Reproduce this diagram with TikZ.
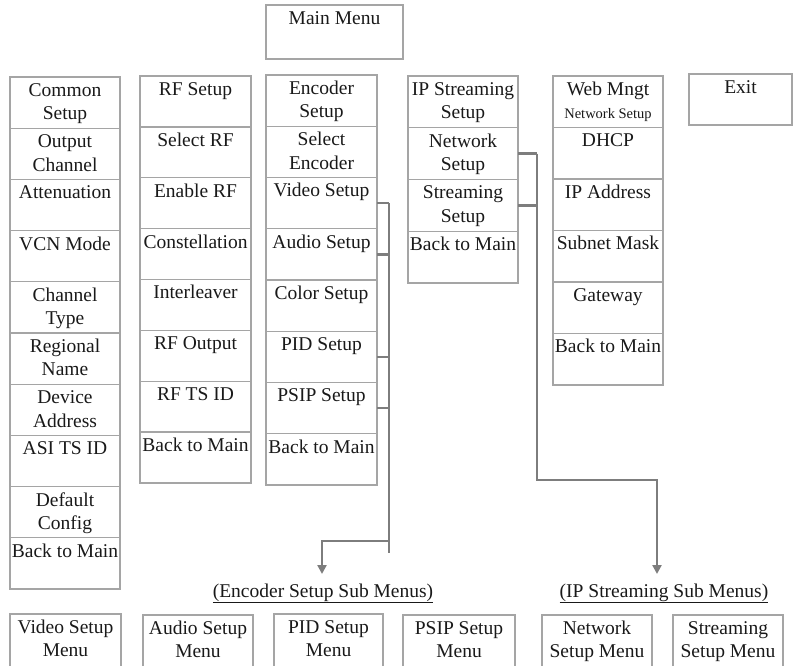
\documentclass[tikz,border=0pt]{standalone}
\usepackage{fontspec}
\setmainfont{Liberation Serif}
\usetikzlibrary{arrows.meta}
\definecolor{boxgray}{RGB}{165,165,165}
\definecolor{linegray}{RGB}{125,125,125}
\definecolor{txtcol}{RGB}{25,25,25}
\newcommand{\menubox}[6]{\node[menubx, anchor=north west] (#1) at (#2,#3) {\parbox[c][#5pt][t]{#4pt}{\centering\vspace*{3pt}\strut #6}};}
\tikzset{
  menubx/.style={draw=boxgray, line width=1.3pt, inner sep=0pt, outer sep=0pt},
  conn/.style={draw=linegray, line width=2.6pt},
  arr/.style={conn, -{Triangle[width=9pt,length=9pt]}},
  lbl/.style={anchor=base, inner sep=0pt}
}
\begin{document}
\begin{tikzpicture}[x=1pt, y=-1pt, font=\fontsize{19.5}{23.5}\selectfont, text=txtcol]
\useasboundingbox (0,0) rectangle (795,665);
\clip (0,0) rectangle (795,665);
% main
\menubox{main}{266}{5}{137}{54}{Main Menu}
\menubox{exit}{689}{74}{103}{51}{Exit}
% column 1
\menubox{ca}{10}{77}{110}{51.2}{Common\\Setup}
\menubox{cb}{10}{128.2}{110}{51.2}{Output\\Channel}
\menubox{cc}{10}{179.4}{110}{51.2}{Attenuation}
\menubox{cd}{10}{230.6}{110}{51.2}{VCN Mode}
\menubox{ce}{10}{281.8}{110}{51.2}{Channel\\Type}
\menubox{cf}{10}{333}{110}{51.2}{Regional\\Name}
\menubox{cg}{10}{384.2}{110}{51.2}{Device\\Address}
\menubox{ch}{10}{435.4}{110}{51.2}{ASI TS ID}
\menubox{ci}{10}{486.6}{110}{51.2}{Default\\Config}
\menubox{cj}{10}{537.8}{110}{51.2}{Back to Main}
% column 2
\menubox{ra}{140}{76}{111}{50.9}{RF Setup}
\menubox{rb}{140}{126.9}{111}{50.9}{Select RF}
\menubox{rc}{140}{177.8}{111}{50.9}{Enable RF}
\menubox{rd}{140}{228.6}{111}{50.9}{Constellation}
\menubox{re}{140}{279.5}{111}{50.9}{Interleaver}
\menubox{rf}{140}{330.4}{111}{50.9}{RF Output}
\menubox{rg}{140}{381.3}{111}{50.9}{RF TS ID}
\menubox{rh}{140}{432.1}{111}{50.9}{Back to Main}
% column 3
\menubox{ea}{266}{75}{111}{51.25}{Encoder\\Setup}
\menubox{eb}{266}{126.25}{111}{51.25}{Select\\Encoder}
\menubox{vid}{266}{177.5}{111}{51.25}{Video Setup}
\menubox{aud}{266}{228.75}{111}{51.25}{Audio Setup}
\menubox{col}{266}{280}{111}{51.25}{Color Setup}
\menubox{pid}{266}{331.25}{111}{51.25}{PID Setup}
\menubox{psip}{266}{382.5}{111}{51.25}{PSIP Setup}
\menubox{eh}{266}{433.75}{111}{51.25}{Back to Main}
% column 4
\menubox{ia}{408}{76}{110}{51.75}{IP Streaming\\Setup}
\menubox{net}{408}{127.75}{110}{51.75}{Network\\Setup}
\menubox{strm}{408}{179.5}{110}{51.75}{Streaming\\Setup}
\menubox{id}{408}{231.25}{110}{51.75}{Back to Main}
% column 5
\menubox{wa}{553}{76}{110}{51.5}{Web Mngt\\{\fontsize{14.5}{16}\selectfont Network Setup}}
\menubox{wb}{553}{127.5}{110}{51.5}{DHCP}
\menubox{wc}{553}{179}{110}{51.5}{IP Address}
\menubox{wd}{553}{230.5}{110}{51.5}{Subnet Mask}
\menubox{we}{553}{282}{110}{51.5}{Gateway}
\menubox{wf}{553}{333.5}{110}{51.5}{Back to Main}
% bottom sub menus
\menubox{bv}{10}{614}{111}{60}{Video Setup\\Menu}
\menubox{ba}{143}{615}{110}{60}{Audio Setup\\Menu}
\menubox{bp}{274}{614}{109}{60}{PID Setup\\Menu}
\menubox{bs}{403}{615}{112}{60}{PSIP Setup\\Menu}
\menubox{bn}{542}{615}{110}{60}{Network\\Setup Menu}
\menubox{bst}{673}{615}{110}{60}{Streaming\\Setup Menu}
% labels
\node[lbl] (enclbl) at (323,597) {\underline{(Encoder Setup Sub Menus)}};
\node[lbl] (iplbl) at (664,597) {\underline{(IP Streaming Sub Menus)}};
% encoder connector
\coordinate (encbus) at (389,553);
\coordinate (encturn) at (389,541);
\coordinate (encarrow) at (322,574);
\draw[conn] (vid.east) -- (vid.east -| encbus);
\draw[conn] (aud.east) -- (aud.east -| encbus);
\draw[conn] (pid.east) -- (pid.east -| encbus);
\draw[conn] (psip.east) -- (psip.east -| encbus);
\draw[conn] (vid.east -| encbus) -- (encbus);
\draw[arr] (encturn) -| (encarrow);
% IP connector
\coordinate (ipbus) at (537,480);
\coordinate (iparrow) at (657,574);
\draw[conn] (net.east) -- (net.east -| ipbus);
\draw[conn] (strm.east) -- (strm.east -| ipbus);
\draw[arr] (net.east -| ipbus) -- (ipbus) -| (iparrow);
\end{tikzpicture}
\end{document}
